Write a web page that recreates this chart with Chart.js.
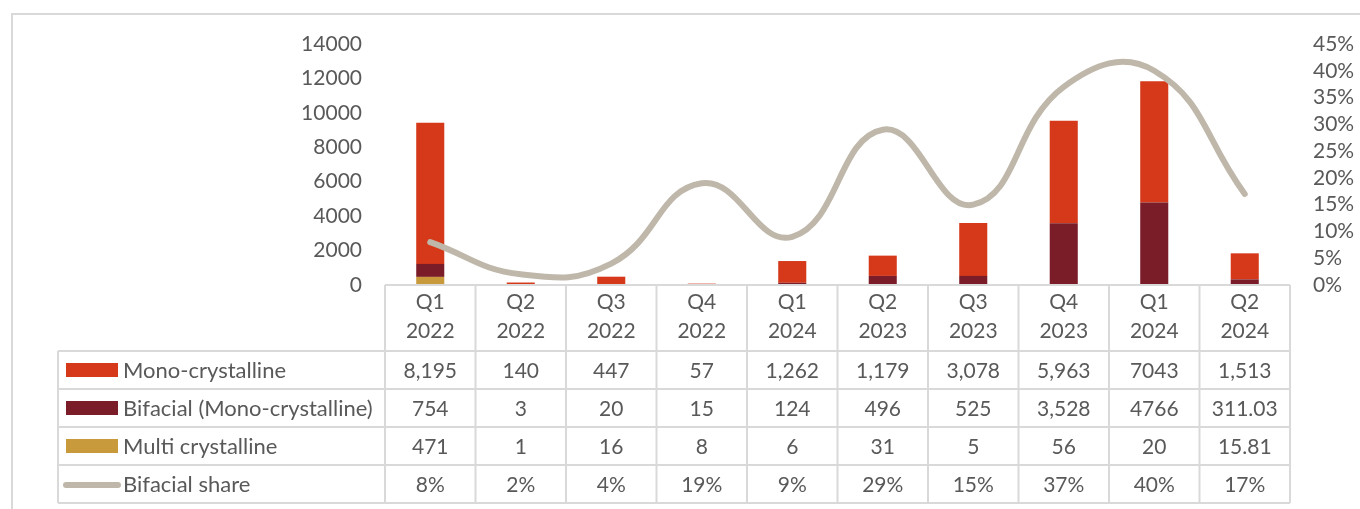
<!DOCTYPE html>
<html>
<head>
<meta charset="utf-8">
<title>Module imports by type</title>
<script src="https://cdn.jsdelivr.net/npm/chart.js@4.4.1/dist/chart.umd.min.js"></script>
<style>
  html, body { margin: 0; padding: 0; background: #ffffff; }
  #wrap { width: 1360px; height: 509px; position: relative; }
</style>
</head>
<body>
<div id="wrap"><canvas id="chart"></canvas></div>
<script>
// Quarter labels (two lines each)
const quarters = ['Q1', 'Q2', 'Q3', 'Q4', 'Q1', 'Q2', 'Q3', 'Q4', 'Q1', 'Q2'];
const years = ['2022', '2022', '2022', '2022', '2024', '2023', '2023', '2023', '2024', '2024'];

// Table cell texts, as printed; the bar and line values are parsed from them
const monoText = ['8,195', '140', '447', '57', '1,262', '1,179', '3,078', '5,963', '7043', '1,513'];
const bifacialText = ['754', '3', '20', '15', '124', '496', '525', '3,528', '4766', '311.03'];
const multiText = ['471', '1', '16', '8', '6', '31', '5', '56', '20', '15.81'];
const shareText = ['8%', '2%', '4%', '19%', '9%', '29%', '15%', '37%', '40%', '17%'];

const toNum = s => parseFloat(s.replace(/[,%]/g, ''));
const mono = monoText.map(toNum);
const bifacial = bifacialText.map(toNum);
const multi = multiText.map(toNum);
const share = shareText.map(s => toNum(s) / 100);

// Axis ticks
const leftTicks = [0, 2000, 4000, 6000, 8000, 10000, 12000, 14000];
const rightTicks = [0, 0.05, 0.10, 0.15, 0.20, 0.25, 0.30, 0.35, 0.40, 0.45];

const seriesNames = ['Mono-crystalline', 'Bifacial (Mono-crystalline)', 'Multi crystalline', 'Bifacial share'];

const COLORS = {
  mono: '#d5391a',
  bifacial: '#7b1c29',
  multi: '#c99a3b',
  share: '#bfb7aa',
  text: '#595959',
  rule: '#d9d9d9'
};
const FONT = 'Lato, "Open Sans", sans-serif';
const FONT_SIZE = 21;

const HEADER_H = 66;
const ROW_H = 38;
const TABLE_LEFT = 58;

// Draws the data table (legend keys + values) under the category axis
const dataTable = {
  id: 'dataTable',
  afterDraw(chart) {
    const { ctx, chartArea, scales } = chart;
    const xs = scales.x;
    const half = (xs.getPixelForValue(1) - xs.getPixelForValue(0)) / 2;
    const left = xs.getPixelForValue(0) - half;
    const right = xs.getPixelForValue(quarters.length - 1) + half;
    const top = chartArea.bottom;
    const headBottom = top + HEADER_H;
    const bottom = headBottom + ROW_H * 4;

    ctx.save();
    // outer frame of the chart object
    ctx.strokeStyle = COLORS.rule;
    ctx.lineWidth = 2;
    ctx.strokeRect(12, 14, 1400, 600);

    ctx.beginPath();
    // header top
    ctx.moveTo(left, top); ctx.lineTo(right, top);
    // row rules
    for (let r = 0; r <= 4; r++) {
      const y = headBottom + r * ROW_H;
      ctx.moveTo(TABLE_LEFT, y); ctx.lineTo(right, y);
    }
    // column rules
    for (let i = 0; i <= quarters.length; i++) {
      const x = left + i * half * 2;
      ctx.moveTo(x, top); ctx.lineTo(x, bottom);
    }
    ctx.moveTo(TABLE_LEFT, headBottom); ctx.lineTo(TABLE_LEFT, bottom);
    ctx.stroke();

    // legend keys, series names and cell values
    const rows = [monoText, bifacialText, multiText, shareText];
    const keyColors = [COLORS.mono, COLORS.bifacial, COLORS.multi];
    ctx.textBaseline = 'middle';
    for (let r = 0; r < 4; r++) {
      const cy = headBottom + r * ROW_H + ROW_H / 2;
      if (r < 3) {
        ctx.fillStyle = keyColors[r];
        ctx.fillRect(66, cy - 7, 52, 14);
      } else {
        ctx.strokeStyle = COLORS.share;
        ctx.lineWidth = 6;
        ctx.lineCap = 'round';
        ctx.beginPath();
        ctx.moveTo(66, cy + 1); ctx.lineTo(118, cy + 1);
        ctx.stroke();
      }
      ctx.fillStyle = COLORS.text;
      ctx.textAlign = 'left';
      ctx.font = `22px ${FONT}`;
      ctx.fillText(seriesNames[r], 123, cy + 1);
      ctx.textAlign = 'center';
      ctx.font = `${FONT_SIZE}px ${FONT}`;
      rows[r].forEach((t, i) => {
        ctx.fillText(t, xs.getPixelForValue(i), cy + 1);
      });
    }
    ctx.restore();
  }
};

new Chart(document.getElementById('chart'), {
  type: 'bar',
  data: {
    labels: quarters.map((q, i) => [q, years[i]]),
    datasets: [
      {
        type: 'line',
        label: seriesNames[3],
        data: share,
        yAxisID: 'y2',
        borderColor: COLORS.share,
        borderWidth: 6,
        borderCapStyle: 'round',
        pointRadius: 0,
        tension: 0.45,
        order: 0
      },
      {
        label: seriesNames[2],
        data: multi,
        backgroundColor: COLORS.multi,
        stack: 's',
        yAxisID: 'y',
        order: 1,
        barPercentage: 0.62,
        categoryPercentage: 0.5
      },
      {
        label: seriesNames[1],
        data: bifacial,
        backgroundColor: COLORS.bifacial,
        stack: 's',
        yAxisID: 'y',
        order: 1,
        barPercentage: 0.62,
        categoryPercentage: 0.5
      },
      {
        label: seriesNames[0],
        data: mono,
        backgroundColor: COLORS.mono,
        stack: 's',
        yAxisID: 'y',
        order: 1,
        barPercentage: 0.62,
        categoryPercentage: 0.5
      }
    ]
  },
  options: {
    responsive: true,
    maintainAspectRatio: false,
    animation: false,
    devicePixelRatio: 1,
    layout: { padding: { top: 44, bottom: 158, left: 0, right: 0 } },
    plugins: {
      legend: { display: false },
      tooltip: { enabled: false }
    },
    scales: {
      x: {
        stacked: true,
        offset: true,
        grid: { display: false, drawTicks: false },
        border: { display: false },
        ticks: {
          color: COLORS.text,
          font: { family: FONT, size: FONT_SIZE, lineHeight: 1.38 },
          padding: 3,
          maxRotation: 0,
          autoSkip: false
        },
        afterFit(scale) { scale.height = HEADER_H; }
      },
      y: {
        stacked: true,
        position: 'left',
        min: 0,
        max: 14000,
        grid: { display: false, drawTicks: false },
        border: { display: false },
        afterBuildTicks(scale) { scale.ticks = leftTicks.map(v => ({ value: v })); },
        ticks: {
          color: COLORS.text,
          font: { family: FONT, size: FONT_SIZE },
          padding: 23,
          autoSkip: false,
          callback: v => String(v)
        },
        afterFit(scale) { scale.width = 385; }
      },
      y2: {
        position: 'right',
        min: 0,
        max: 0.45,
        grid: { display: false, drawTicks: false },
        border: { display: false },
        afterBuildTicks(scale) { scale.ticks = rightTicks.map(v => ({ value: v })); },
        ticks: {
          color: COLORS.text,
          font: { family: FONT, size: FONT_SIZE },
          padding: 23,
          autoSkip: false,
          callback: v => Math.round(v * 100) + '%'
        },
        afterFit(scale) { scale.width = 70; }
      }
    }
  },
  plugins: [dataTable]
});
</script>
</body>
</html>
